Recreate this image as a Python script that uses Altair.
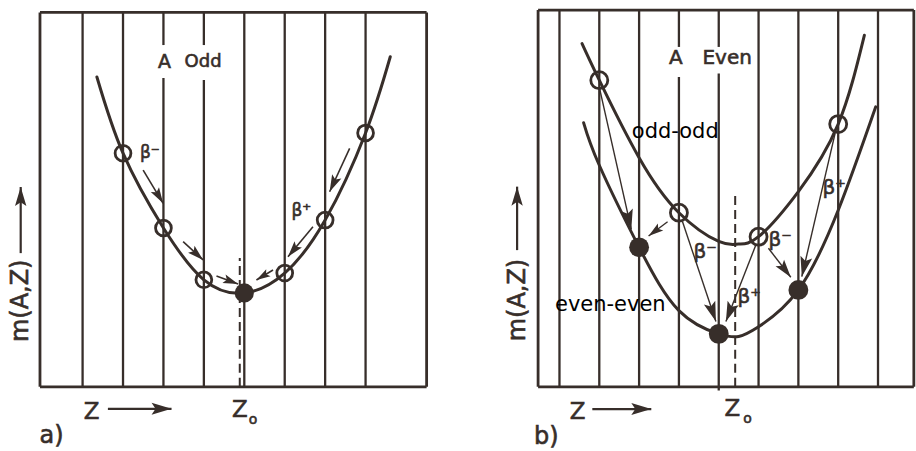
import math

import altair as alt
import pandas as pd

INK = "#372e2a"
FONT = "DejaVu Sans"
HEAD = "M0,0L0.3,1L0,0.8L-0.3,1Z"  # barbed arrowhead, tip at the anchor

PANEL_W = 458
PANEL_H = 451
M_DOMAIN = [-17.02, 102.93]
A_Z_DOMAIN = [-1.043, 10.274]
B_Z_DOMAIN = [-2.561, 8.929]

# ---------------- a) A odd: one mass parabola ----------------
A_OPEN_Z = [2, 3, 4, 6, 7, 8]
A_OPEN_M = [62.2, 42.3, 28.5, 30.3, 44.4, 67.6]
A_STABLE_Z = [5]
A_STABLE_M = [25.0]
A_CURVE_Z = [1.354, 2, 3, 4, 5, 6, 7, 8, 8.611]
A_CURVE_M = [82.5, 62.2, 42.3, 28.5, 25.0, 30.3, 44.4, 67.6, 87.9]

A_GRID_Z = [1, 2, 3, 3, 4, 4, 5, 6, 7, 8]
A_GRID_FROM = [0, 0, 0, 91.0, 0, 91.0, 0, 0, 0, 0]
A_GRID_TO = [99.7, 99.7, 82.2, 99.7, 81.7, 99.7, 99.7, 99.7, 99.7, 99.7]
A_BOX = {"left": -0.054, "right": 9.51, "bottom": 0.0, "top": 99.7}
A_Z0 = {"z": 4.888, "from": 0.0, "to": 34.3}

A_ARROW_Z0 = [2.498, 3.487, 4.312, 7.606, 6.699, 5.711, -0.531, 1.626]
A_ARROW_M0 = [57.71, 38.64, 29.52, 63.48, 42.63, 31.12, 35.6, -5.85]
A_ARROW_Z1 = [2.992, 3.981, 4.846, 7.111, 6.081, 5.300, -0.531, 3.200]
A_ARROW_M1 = [48.86, 33.78, 27.39, 51.94, 34.65, 28.46, 53.2, -5.85]
A_ARROW_HEAD = [16, 16, 15, 17, 16, 14, 19, 20]
A_ARROW_W = [1.6, 1.6, 1.6, 1.6, 1.6, 1.6, 2.2, 2.2]

A_TEXT = ["A", "Odd", "β⁻", "β⁺", "m(A,Z)", "Z", "Z", "o", "a)"]
A_TEXT_Z = [3.027, 3.981, 2.664, 6.412, -0.524, 1.223, 4.888, 5.217, 0.230]
A_TEXT_M = [86.5, 86.5, 62.2, 46.8, 22.9, -6.6, -6.1, -8.8, -13.0]
A_TEXT_SIZE = [19, 18, 17, 17, 24, 23, 23, 14, 24]
A_TEXT_ANGLE = [0, 0, 0, 0, 270, 0, 0, 0, 0]
A_TEXT_COLOR = [INK] * 9
A_TEXT_STROKE = [0.6] * 9

# ---------------- b) A even: odd-odd and even-even parabolas ----------------
B_OPEN_Z = [1, 3, 5, 7]
B_OPEN_M = [81.65, 46.36, 39.97, 69.95]
B_STABLE_Z = [2, 4, 6]
B_STABLE_M = [37.15, 14.1, 25.8]
B_ODD_CURVE_Z = [0.567, 1, 2, 3, 4, 4.5, 5, 6, 7, 7.657]
B_ODD_CURVE_M = [91.4, 81.65, 61.0, 46.36, 38.7, 38.0, 39.97, 52.0, 69.95, 93.6]
B_EVEN_CURVE_Z = [0.607, 1, 2, 3, 4, 4.5, 5, 6, 7, 7.943]
B_EVEN_CURVE_M = [70.3, 59.0, 37.15, 20.3, 14.1, 13.4, 16.0, 25.8, 47.0, 74.55]

B_GRID_Z = [0, 1, 2, 3, 3, 4, 4, 5, 6, 7, 8]
B_GRID_FROM = [0, 0, 0, 0, 90.5, -1.0, 90.5, 0, 0, 0, 0]
B_GRID_TO = [100.3, 100.3, 100.3, 82.5, 100.3, 83.4, 100.3, 100.3, 100.3, 100.3, 100.3]
B_BOX = {"left": -0.537, "right": 8.9, "bottom": 0.0, "top": 100.3}
B_Z0 = {"z": 4.413, "from": 0.0, "to": 51.9}

B_ARROW_Z0 = [1.001, 2.715, 3.091, 4.932, 5.248, 6.922, -1.064, 0.825]
B_ARROW_M0 = [79.71, 43.96, 43.96, 37.77, 36.89, 67.47, 36.4, -5.93]
B_ARROW_Z1 = [1.804, 2.238, 3.929, 4.180, 5.810, 6.086, -1.064, 2.306]
B_ARROW_M1 = [41.94, 40.16, 17.37, 17.37, 29.18, 29.34, 53.3, -5.93]
B_ARROW_HEAD = [20, 15, 20, 20, 18, 20, 19, 20]
B_ARROW_W = [1.4, 1.4, 1.4, 1.4, 1.4, 1.4, 2.2, 2.2]

B_TEXT = ["A", "Even", "odd-odd", "even-even", "β⁻", "β⁻", "β⁺", "β⁺",
          "m(A,Z)", "Z", "Z", "o", "b)"]
B_TEXT_Z = [2.925, 4.212, 2.908, 1.277, 3.660, 5.542, 4.764, 6.897,
            -1.044, 0.457, 4.345, 4.721, -0.329]
B_TEXT_M = [87.5, 87.5, 67.8, 21.8, 35.9, 39.1, 23.9, 52.9,
            23.1, -6.6, -5.9, -8.6, -13.3]
B_TEXT_SIZE = [20, 20, 21, 21, 20, 20, 20, 20, 24, 23, 23, 14, 24]
B_TEXT_ANGLE = [0, 0, 0, 0, 0, 0, 0, 0, 270, 0, 0, 0, 0]
B_TEXT_COLOR = [INK, INK, "#000000", "#000000"] + [INK] * 9
B_TEXT_STROKE = [0.6, 0.6, 0, 0] + [0.6] * 9


def make_panel(zdom, grid, box, z0line, curves, open_pts, stable_pts, arrows,
               texts, open_size, stable_size):
    sx = PANEL_W / (zdom[1] - zdom[0])
    sy = PANEL_H / (M_DOMAIN[1] - M_DOMAIN[0])
    zs = alt.Scale(domain=zdom, nice=False, zero=False)
    ms = alt.Scale(domain=M_DOMAIN, nice=False, zero=False)

    def X(f):
        return alt.X(f, type="quantitative", scale=zs, axis=None)

    def Y(f):
        return alt.Y(f, type="quantitative", scale=ms, axis=None)

    gz, gfrom, gto = grid
    grid_df = pd.DataFrame({"z": gz, "m0": gfrom, "m1": gto})
    grid_layer = alt.Chart(grid_df).mark_rule(color=INK, strokeWidth=2.3).encode(
        x=X("z"), y=Y("m0"), y2="m1")

    box_df = pd.DataFrame({
        "z0": [box["left"], box["left"], box["left"], box["right"]],
        "z1": [box["right"], box["right"], box["left"], box["right"]],
        "m0": [box["bottom"], box["top"], box["bottom"], box["bottom"]],
        "m1": [box["bottom"], box["top"], box["top"], box["top"]],
    })
    box_layer = alt.Chart(box_df).mark_rule(color=INK, strokeWidth=2.8).encode(
        x=X("z0"), x2="z1", y=Y("m0"), y2="m1")

    z0_df = pd.DataFrame({"z": [z0line["z"]], "m0": [z0line["from"]], "m1": [z0line["to"]]})
    z0_layer = alt.Chart(z0_df).mark_rule(color=INK, strokeWidth=2.0, strokeDash=[9, 5]).encode(
        x=X("z"), y=Y("m0"), y2="m1")

    rows = []
    for name, (cz, cm) in curves.items():
        for z, m in zip(cz, cm):
            rows.append({"curve": name, "z": z, "m": m})
    curve_layer = alt.Chart(pd.DataFrame(rows)).mark_line(
        color=INK, strokeWidth=3.0, interpolate="natural", strokeCap="round").encode(
        x=X("z"), y=Y("m"), detail="curve:N", order="z:Q")

    open_df = pd.DataFrame({"z": open_pts[0], "m": open_pts[1]})
    open_layer = alt.Chart(open_df).mark_point(
        shape="circle", filled=False, color=INK, strokeWidth=2.8, size=open_size, opacity=1).encode(
        x=X("z"), y=Y("m"))

    stable_df = pd.DataFrame({"z": stable_pts[0], "m": stable_pts[1]})
    stable_layer = alt.Chart(stable_df).mark_point(
        shape="circle", filled=True, color=INK, size=stable_size, opacity=1).encode(
        x=X("z"), y=Y("m"))

    az0, am0, az1, am1, head, width = arrows
    angles = [math.degrees(math.atan2((b - a) * sx, (d - c) * sy)) % 360
              for a, b, c, d in zip(az0, az1, am0, am1)]
    arrow_df = pd.DataFrame({
        "z0": az0, "m0": am0, "z1": az1, "m1": am1,
        "hs": [(2 * h) ** 2 for h in head], "w": width, "ang": angles,
    })
    shaft_layer = alt.Chart(arrow_df).mark_rule(color=INK).encode(
        x=X("z0"), x2="z1", y=Y("m0"), y2="m1",
        strokeWidth=alt.StrokeWidth("w:Q", scale=None))
    head_layer = alt.Chart(arrow_df).mark_point(
        shape=HEAD, filled=True, color=INK, opacity=1, strokeWidth=0).encode(
        x=X("z1"), y=Y("m1"),
        size=alt.Size("hs:Q", scale=None),
        angle=alt.Angle("ang:Q", scale=None))

    t, tz, tm, tsize, tangle, tcolor, tstroke = texts
    text_df = pd.DataFrame({"t": t, "z": tz, "m": tm, "s": tsize, "a": tangle,
                            "c": tcolor, "sw": tstroke})
    text_layer = alt.Chart(text_df).mark_text(
        font=FONT, align="center", baseline="middle").encode(
        x=X("z"), y=Y("m"), text="t:N",
        size=alt.Size("s:Q", scale=None),
        angle=alt.Angle("a:Q", scale=None),
        color=alt.Color("c:N", scale=None),
        stroke=alt.Stroke("c:N", scale=None),
        strokeWidth=alt.StrokeWidth("sw:Q", scale=None))

    return alt.layer(
        grid_layer, box_layer, z0_layer, curve_layer, shaft_layer, head_layer,
        open_layer, stable_layer, text_layer,
    ).properties(width=PANEL_W, height=PANEL_H)


panel_a = make_panel(
    A_Z_DOMAIN,
    (A_GRID_Z, A_GRID_FROM, A_GRID_TO),
    A_BOX, A_Z0,
    {"odd A": (A_CURVE_Z, A_CURVE_M)},
    (A_OPEN_Z, A_OPEN_M), (A_STABLE_Z, A_STABLE_M),
    (A_ARROW_Z0, A_ARROW_M0, A_ARROW_Z1, A_ARROW_M1, A_ARROW_HEAD, A_ARROW_W),
    (A_TEXT, A_TEXT_Z, A_TEXT_M, A_TEXT_SIZE, A_TEXT_ANGLE, A_TEXT_COLOR, A_TEXT_STROKE),
    open_size=250, stable_size=370,
)

panel_b = make_panel(
    B_Z_DOMAIN,
    (B_GRID_Z, B_GRID_FROM, B_GRID_TO),
    B_BOX, B_Z0,
    {"odd-odd": (B_ODD_CURVE_Z, B_ODD_CURVE_M),
     "even-even": (B_EVEN_CURVE_Z, B_EVEN_CURVE_M)},
    (B_OPEN_Z, B_OPEN_M), (B_STABLE_Z, B_STABLE_M),
    (B_ARROW_Z0, B_ARROW_M0, B_ARROW_Z1, B_ARROW_M1, B_ARROW_HEAD, B_ARROW_W),
    (B_TEXT, B_TEXT_Z, B_TEXT_M, B_TEXT_SIZE, B_TEXT_ANGLE, B_TEXT_COLOR, B_TEXT_STROKE),
    open_size=290, stable_size=395,
)

chart = alt.hconcat(panel_a, panel_b, spacing=0, bounds="flush").properties(
    padding=0, background="white"
).configure_view(stroke=None)

chart.save("out.html", embed_options={"renderer": "svg", "actions": False})
